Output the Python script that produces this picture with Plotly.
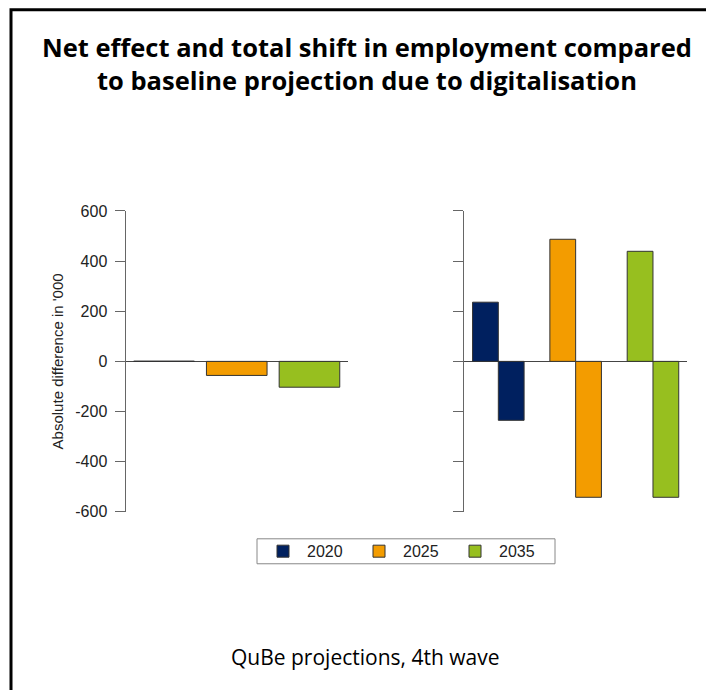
import plotly.graph_objects as go

# ---- data ----
years = ["2020", "2025", "2035"]
net_effect = [1, -56, -103]
shift_gains = [236, 487, 439]
shift_losses = [-235, -542, -542]
year_colors = ["#00205F", "#F39C00", "#97BF1F"]
y_tickvals = [-600, -400, -200, 0, 200, 400, 600]
y_ticktext = ["-600", "-400", "-200", "0", "200", "400", "600"]

W, H = 706, 700
# vertical calibration of the photographed page
Y0, YS = 7.5, 0.977
def px(x):
    return x / W
def py(y):
    return 1 - ((y - Y0) / YS) / H

TICKFONT = "Liberation Sans, Arial, sans-serif"

fig = go.Figure()

# left panel: net effect
for yr, v, c in zip(years, net_effect, year_colors):
    fig.add_trace(go.Bar(
        x=[yr], y=[v], name=yr, marker=dict(color=c, line=dict(color="#333333", width=1)),
        width=1 / 1.2, offset=-0.5 / 1.2, xaxis="x", yaxis="y",
        legendgroup=yr, showlegend=True,
    ))

# right panel: total shift (gains / losses)
for yr, g, l, c in zip(years, shift_gains, shift_losses, year_colors):
    fig.add_trace(go.Bar(
        x=[yr, yr], y=[g, l], name=yr, marker=dict(color=c, line=dict(color="#333333", width=1)),
        width=1 / 3, offset=[-1 / 3, 0], xaxis="x2", yaxis="y2",
        legendgroup=yr, showlegend=False,
    ))

axis_common_x = dict(type="category", categoryorder="array", categoryarray=years,
                     showline=False, showticklabels=False, ticks="", showgrid=False,
                     zeroline=False, fixedrange=True)
axis_common_y = dict(range=[-600, 600], tickvals=y_tickvals, ticktext=y_ticktext,
                     showline=True, linecolor="#666666", linewidth=1,
                     ticks="outside", ticklen=10, tickcolor="#666666", tickwidth=1,
                     showgrid=False, zeroline=True, zerolinecolor="#444444", zerolinewidth=1,
                     tickfont=dict(family=TICKFONT, size=16, color="#222222"),
                     fixedrange=True)

fig.update_layout(
    width=W, height=H,
    margin=dict(l=0, r=0, t=0, b=0),
    paper_bgcolor="white", plot_bgcolor="white",
    barmode="overlay",
    showlegend=True,
    xaxis=dict(domain=[px(125.5), px(348)], range=[-0.53, 2.53], anchor="y", **axis_common_x),
    yaxis=dict(domain=[py(512), py(210.7)], anchor="x",
               title=dict(text="Absolute difference in '000", standoff=8,
                          font=dict(family=TICKFONT, size=15, color="#222222")),
               ticklabelstandoff=4,
               **axis_common_y),
    xaxis2=dict(domain=[px(464.3), px(687)], range=[-0.44, 2.44], anchor="y2", **axis_common_x),
    yaxis2=dict(domain=[py(512), py(210.7)], anchor="x2", showticklabels=False, **axis_common_y),
    legend=dict(orientation="h", x=px(259), y=py(551.5), xanchor="left", yanchor="middle",
                borderwidth=0, bgcolor="rgba(0,0,0,0)",
                font=dict(family=TICKFONT, size=16, color="#222222"),
                itemwidth=38, entrywidth=43, itemclick=False, itemdoubleclick=False),
    annotations=[
        dict(text="<b>Net effect and total shift in employment compared<br>"
                  "to baseline projection due to digitalisation</b>",
             x=px(367), y=py(63.5),
             xref="paper", yref="paper", showarrow=False, xanchor="center", yanchor="middle",
             font=dict(family="Open Sans, sans-serif", size=25.5, color="black")),
        dict(text="QuBe projections, 4th wave", x=px(365), y=py(657.5),
             xref="paper", yref="paper", showarrow=False, xanchor="center", yanchor="middle",
             font=dict(family="Open Sans, sans-serif", size=21, color="black")),
    ],
    shapes=[
        # outer frame
        dict(type="rect", xref="paper", yref="paper", x0=px(11), x1=1.05, y0=-0.05, y1=py(9.2),
             line=dict(color="black", width=3), fillcolor="rgba(0,0,0,0)", layer="above"),
        # legend frame
        dict(type="rect", xref="paper", yref="paper", x0=px(257), x1=px(555), y0=py(564), y1=py(539),
             line=dict(color="#888888", width=1), fillcolor="rgba(0,0,0,0)", layer="below"),
    ],
)

fig.write_html("out.html", config={"displayModeBar": False},
               post_script="document.body.style.margin='0';document.body.style.overflow='hidden';")
